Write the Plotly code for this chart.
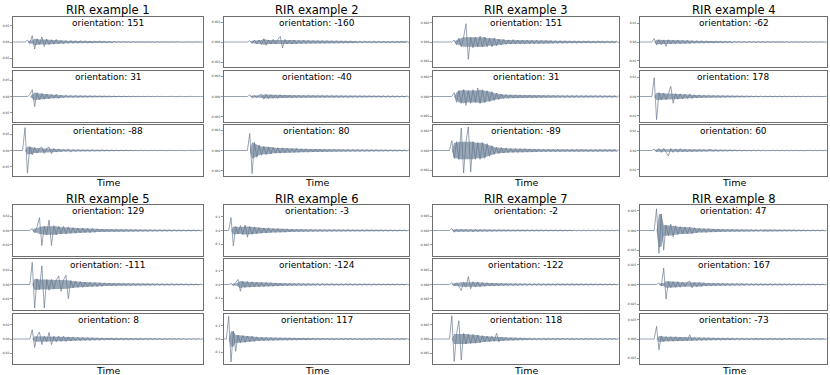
import numpy as np
import plotly.graph_objects as go

# ---------------- data ----------------
N_SAMPLES = 80
TITLES = ["RIR example %d" % k for k in range(1, 9)]
ORIENTATIONS = [[151, 31, -88], [-160, -40, 80], [151, 31, -89], [-62, 178, 60],
                [129, -111, 8], [-3, -124, 117], [-2, -122, 118], [47, 167, -73]]
UNITS = [1e-3, 1e-4, 1e-4, 1e-3, 1e-3, 1e-3, 1e-4, 1e-3]      # unit of the sample lists
TICK_STEP = [0.05, 0.003, 0.002, 0.01, 0.02, 0.1, 0.005, 0.025]
Y_LIMIT = [0.078, 0.00375, 0.0026, 0.0132, 0.0357, 0.188, 0.0089, 0.0325]
TICK_FMT = [".2f", ".3f", ".3f", ".2f", ".2f", ".1f", ".3f", ".3f"]

EX1_P1 = [0, 0, 0, 0, 0, 0, 6, -5, 20, -22,
          10, -8, 16, -14, 9, -8, 7, -7, 8, -6,
          5, -6, 5, -4, 5, -4, 4, -4, 4, -3,
          4, -3, 3, -3, 3, -2, 3, -2, 2, -2,
          2, -2, 2, -1.5, 1.5, -1.5, 1.5, -1.2, 1.2, -1,
          1, -1, 1, -1, 1, -1, 1, -0.8, 0.8, -0.8,
          0.8, -0.8, 0.8, -0.7, 0.7, -0.7, 0.7, -0.6, 0.6, -0.6,
          0.6, -0.6, 0.5, -0.5, 0.5, -0.5, 0.5, -0.5, 0.4, -0.4]
EX1_P2 = [0, 0, 0, 0, 0, 0, 0, 6, 21, -31,
          12, -10, 9, -8, 7, -7, 6, -5, 7, -6,
          4, -4, 4, -3, 3, -3, 3, -3, 2.5, -2,
          2, -2, 2, -2, 1.8, -1.5, 1.5, -1.5, 1.3, -1.2,
          1.2, -1, 1, -1, 1, -1, 1, -0.9, 0.9, -0.8,
          0.8, -0.8, 0.8, -0.8, 0.7, -0.7, 0.7, -0.7, 0.6, -0.6,
          0.6, -0.6, 0.6, -0.5, 0.5, -0.5, 0.5, -0.5, 0.5, -0.4,
          0.4, -0.4, 0.4, -0.4, 0.4, -0.4, 0.3, -0.3, 0.3, -0.3]
EX1_P3 = [0, 0, 0, 0, 0, 70, -69, 12, -13, 10,
          -8, 7, 10, -9, 6, 10, -10, 6, -5, 5,
          -4, 4, -3, 5, -5, 3, -3, 3, -2, 2,
          -2, 2, -2, 2, -1.5, 1.5, -1.5, 1.5, -1.2, 1.2,
          -1, 1, -1, 1, -1, 1, -0.9, 0.9, -0.8, 0.8,
          -0.8, 0.8, -0.8, 0.7, -0.7, 0.7, -0.7, 0.6, -0.6, 0.6,
          -0.6, 0.6, -0.5, 0.5, -0.5, 0.5, -0.5, 0.5, -0.4, 0.4,
          -0.4, 0.4, -0.4, 0.4, -0.4, 0.3, -0.3, 0.3, -0.3, 0.3]

EX2_P1 = [0, 0, 0, 0, 0, 0, 0, 0, 0, 0,
          0, 2, -2, 3, -3, 3, -4, 5, -5, 3,
          -3, 4, -3, 4, 8.5, -9, 4, -3, 3, -3,
          3, -3, 2.5, -2.5, 3, -2, 2.5, -2, 2, -2,
          2, -2, 2, -2, 2, -1.8, 1.8, -1.8, 1.6, -1.6,
          1.6, -1.5, 1.5, -1.5, 1.5, -1.4, 1.4, -1.4, 1.3, -1.3,
          1.3, -1.2, 1.2, -1.2, 1.2, -1.1, 1.1, -1.1, 1, -1,
          1, -1, 1, -1, 1, -1, 1, -1, 1, -1]
EX2_P2 = [0, 0, 0, 0, 0, 0, 0, 0, 0, 0,
          0, 2.5, -2, 1.5, -1.5, 2, 3, -3.5, 3, -3,
          2.5, -2.5, 2, -2.5, 2.5, -2, 2, -2, 2, -2,
          2, -2, 2, -1.8, 1.8, -1.8, 1.8, -1.6, 1.6, -1.6,
          1.5, -1.5, 1.5, -1.5, 1.4, -1.4, 1.4, -1.3, 1.3, -1.3,
          1.2, -1.2, 1.2, -1.2, 1.1, -1.1, 1.1, -1.1, 1, -1,
          1, -1, 1, -1, 1, -1, 1, -1, 1, -1,
          1, -1, 0.9, -0.9, 0.9, -0.9, 0.9, -0.9, 0.9, -0.9]
EX2_P3 = [0, 0, 0, 0, 0, 0, 0, 0, 0, 0,
          0, 25, -34, 12, -10, 8, -7, 6, -6, 5,
          -5, 5, -4, 4, -4, 4, -3.5, 3.5, -3, 3,
          -3, 3, -3, 2.5, -2.5, 2.5, -2.5, 2.2, -2.2, 2,
          -2, 2, -2, 1.8, -1.8, 1.8, -1.6, 1.6, -1.6, 1.5,
          -1.5, 1.5, -1.5, 1.4, -1.4, 1.4, -1.3, 1.3, -1.3, 1.2,
          -1.2, 1.2, -1.2, 1.1, -1.1, 1.1, -1.1, 1, -1, 1,
          -1, 1, -1, 1, -1, 0.9, -0.9, 0.9, -0.9, 0.9]

EX3_P1 = [0, 0, 0, 0, 0, 0, 0, 0, 0, 2,
          -3, 4, -5, 5, 19, -18, 5, -6, 5, -5,
          6, -5, 5, -5, 4, -5, 4, -4, 3, -3,
          2.5, -2.5, 2.2, -2.2, 2.5, -2, 2, -2, 2, -1.8,
          2, -1.8, 1.8, -1.8, 1.8, -1.6, 1.6, -1.6, 1.6, -1.5,
          1.5, -1.5, 1.4, -1.4, 1.4, -1.3, 1.3, -1.3, 1.2, -1.2,
          1.2, -1.2, 1.1, -1.1, 1, -1, 1, -1, 1, -1,
          1, -1, 1, -1, 0.9, -0.9, 0.9, -0.9, 0.9, -0.9]
EX3_P2 = [0, 0, 0, 0, 0, 0, 0, 0, 0, 4,
          -6, 6, -7, 7, -9, 6, -7, 7, -6, 8.7,
          -7, 7, -6, 6, -5, 5, -4, 3.5, -3, 2.5,
          -2, 2, -1.8, 1.8, -1.6, 1.6, -1.5, 1.5, -1.5, 1.4,
          -1.4, 1.4, -1.3, 1.3, -1.3, 1.3, -1.2, 1.2, -1.2, 1.2,
          -1.2, 1.2, -1.1, 1.1, -1.1, 1.1, -1.1, 1, -1, 1,
          -1, 1, -1, 1, -1, 0.9, -0.9, 0.9, -0.9, 0.9,
          -0.9, 0.9, -0.9, 0.9, -0.8, 0.8, -0.8, 0.8, -0.8, 0.8]
EX3_P3 = [0, 0, 0, 0, 0, 0, 0, 0, 10, -8,
          9, -9, 23, -23, 9, 24, -22, 9, -9, 8,
          -9, 8, -8, 7, -6, 5, -4, 3.5, -3, 3,
          -2.5, 2.5, -2.2, 2.2, -2, 2, -2, 1.8, -1.8, 1.8,
          -1.6, 1.6, -1.6, 1.5, -1.5, 1.5, -1.4, 1.4, -1.4, 1.4,
          -1.3, 1.3, -1.3, 1.3, -1.2, 1.2, -1.2, 1.2, -1.1, 1.1,
          -1.1, 1.1, -1.1, 1, -1, 1, -1, 1, -1, 1,
          -1, 1, -1, 1, -0.9, 0.9, -0.9, 0.9, -0.9, 0.9]

EX4_P1 = [0, 0, 0, 0, 0, 0, 1.8, -1.6, 1.2, -1.4,
          1.0, -2.3, 1.2, -1.0, 1.0, -0.9, 1.1, -0.9, 0.9, -0.8,
          0.9, -0.8, 0.8, -0.7, 0.7, -0.6, 0.6, -0.6, 0.5, -0.5,
          0.5, -0.5, 0.4, -0.4, 0.4, -0.4, 0.4, -0.35, 0.35, -0.35,
          0.3, -0.3, 0.3, -0.3, 0.3, -0.3, 0.3, -0.25, 0.25, -0.25,
          0.25, -0.25, 0.25, -0.2, 0.2, -0.2, 0.2, -0.2, 0.2, -0.2,
          0.2, -0.2, 0.2, -0.2, 0.15, -0.15, 0.15, -0.15, 0.15, -0.15,
          0.15, -0.15, 0.15, -0.15, 0.15, -0.15, 0.1, -0.1, 0.1, -0.1]
EX4_P2 = [0, 0, 0, 0, 0, 0, 9.7, -12, 2, -1.8,
          1.8, -1.6, 1.5, 5.3, -3.5, 1.5, -1.4, 1.4, -1.2, 1.3,
          -1.0, 1.4, -1.0, 0.9, -0.8, 0.9, -0.7, 0.7, -0.6, 0.6,
          -0.5, 0.5, -0.5, 0.45, -0.45, 0.4, -0.4, 0.4, -0.35, 0.35,
          -0.3, 0.3, -0.3, 0.3, -0.3, 0.3, -0.25, 0.25, -0.25, 0.25,
          -0.25, 0.2, -0.2, 0.2, -0.2, 0.2, -0.2, 0.2, -0.2, 0.2,
          -0.2, 0.2, -0.15, 0.15, -0.15, 0.15, -0.15, 0.15, -0.15, 0.15,
          -0.15, 0.15, -0.15, 0.1, -0.1, 0.1, -0.1, 0.1, -0.1, 0.1]
EX4_P3 = [0, 0, 0, 0, 0, 0, 0.8, -0.7, 1.0, -1.0,
          1.1, -0.9, -2.8, 1.1, -1.0, 0.9, -0.9, 1.0, -0.8, 0.7,
          -0.7, 0.6, -0.6, 0.5, -0.5, 0.5, -0.45, 0.45, -0.4, 0.4,
          0.4, -0.35, 0.35, -0.35, 0.3, -0.3, 0.3, -0.3, 0.3, -0.25,
          0.25, -0.25, 0.25, -0.25, 0.2, -0.2, 0.2, -0.2, 0.2, -0.2,
          0.2, -0.2, 0.2, -0.2, 0.15, -0.15, 0.15, -0.15, 0.15, -0.15,
          0.15, -0.15, 0.15, -0.15, 0.15, -0.15, 0.1, -0.1, 0.1, -0.1,
          0.1, -0.1, 0.1, -0.1, 0.1, -0.1, 0.1, -0.1, 0.1, -0.1]

EX5_P1 = [0, 0, 0, 0, 0, 0, 0, 0, 3, -3,
          5, 18, -21, 6, -6, 14.8, -21, 7, -6, 6,
          -5, 5.7, -5, 5, -4, 4, -4, 3.5, -3.5, 3.5,
          -3, 3, -3, 3, -2.5, 2.5, -2, 2, -2, 2,
          -1.8, 1.8, -1.6, 1.6, -1.5, 1.5, -1.4, 1.4, -1.3, 1.3,
          -1.2, 1.2, -1.2, 1.1, -1.1, 1.1, -1, 1, -1, 1,
          -1, 1, -0.9, 0.9, -0.9, 0.9, -0.8, 0.8, -0.8, 0.8,
          -0.8, 0.7, -0.7, 0.7, -0.7, 0.7, -0.6, 0.6, -0.6, 0.6]
EX5_P2 = [0, 0, 0, 0, 0, 0, 0, 0, 31, -33,
          8, -7, 26, -33, 7, -8, 7, -6, 6, 12,
          -9.5, 6, 13, -20, 6, -5, 5, -4, 4, -4,
          3.5, -3.5, 3, -3, 3, -3, 2.5, -2.5, 2.5, -2,
          2, -2, 2, -1.8, 1.8, -1.6, 1.6, -1.5, 1.5, -1.4,
          1.4, -1.3, 1.3, -1.2, 1.2, -1.2, 1.1, -1.1, 1, -1,
          1, -1, 1, -0.9, 0.9, -0.9, 0.9, -0.8, 0.8, -0.8,
          0.8, -0.7, 0.7, -0.7, 0.7, -0.6, 0.6, -0.6, 0.6, -0.6]
EX5_P3 = [0, 0, 0, 0, 0, 0, 0, 0, 13.3, -12,
          4, 10, -8, 4, -4, 9.5, -8, 4, -4, 4,
          -3.5, 4, -3.5, 3, -3, 3, -2.5, 2.5, -2.5, 2.5,
          -2, 2, -2, 2, -1.8, 1.8, -1.6, 1.6, -1.5, 1.5,
          -1.4, 1.4, -1.3, 1.3, -1.2, 1.2, -1.2, 1.1, -1.1, 1,
          -1, 1, -1, 1, -0.9, 0.9, -0.9, 0.9, -0.8, 0.8,
          -0.8, 0.8, -0.7, 0.7, -0.7, 0.7, -0.7, 0.6, -0.6, 0.6,
          -0.6, 0.6, -0.6, 0.5, -0.5, 0.5, -0.5, 0.5, -0.5, 0.5]

EX6_P1 = [0, 0, 0, 95, -113, 30, -25, 37, -30, 40,
          -50, 30, -28, 25, -22, 20, -20, 18, -18, 20,
          -15, 15, -14, 14, -13, 12, -12, 12, -11, 11,
          -10, 10, -10, 10, -9, 9, -9, 9, -8, 8,
          -8, 8, -8, 7, -7, 7, -7, 7, -6, 6,
          -6, 6, -6, 6, -5, 5, -5, 5, -5, 5,
          -5, 5, -4, 4, -4, 4, -4, 4, -4, 4,
          -4, 3.5, -3.5, 3.5, -3.5, 3.5, -3, 3, -3, 3]
EX6_P2 = [0, 0, 0, 8, -8, 15, 37, -50, 25, -22,
          22, -20, 20, -18, 18, -17, 16, -15, 15, -14,
          14, -13, 12, -12, 11, -11, 10, -10, 10, -9,
          9, -9, 9, -8, 8, -8, 8, -7, 7, -7,
          7, -7, 6, -6, 6, -6, 6, -6, 5, -5,
          5, -5, 5, -5, 5, -5, 4.5, -4.5, 4.5, -4.5,
          4.5, -4, 4, -4, 4, -4, 4, -4, 3.5, -3.5,
          3.5, -3.5, 3.5, -3.5, 3, -3, 3, -3, 3, -3]
EX6_P3 = [0, 0, 170, -173, 58, -93, 30, -28, 25, -25,
          22, -20, 20, -18, 16, -15, 14, -13, 12, -12,
          11, -11, 10, -10, 10, -9, 9, -9, 8, -8,
          8, -8, 7, -7, 7, -7, 6, -6, 6, -6,
          6, -6, 5, -5, 5, -5, 5, -5, 5, -5,
          4.5, -4.5, 4.5, -4.5, 4, -4, 4, -4, 4, -4,
          4, -4, 3.5, -3.5, 3.5, -3.5, 3.5, -3.5, 3, -3,
          3, -3, 3, -3, 3, -3, 3, -3, 3, -3]

EX7_P1 = [0, 0, 0, 0, 0, 0, 0, 0, 7, -6,
          4, -4, 5, -4, 4, -4, 4, -5, 4, -4,
          3, -3, 3, -3, 2.5, -2.5, 2.5, -2.5, 2.5, -2,
          2, -2, 2, -2, 2, -2, 2, -2, 2, -2,
          1.8, -1.8, 1.8, -1.8, 1.8, -1.6, 1.6, -1.6, 1.6, -1.6,
          1.5, -1.5, 1.5, -1.5, 1.5, -1.5, 1.4, -1.4, 1.4, -1.4,
          1.4, -1.3, 1.3, -1.3, 1.3, -1.3, 1.2, -1.2, 1.2, -1.2,
          1.2, -1.2, 1.1, -1.1, 1.1, -1.1, 1.1, -1.1, 1, -1]
EX7_P2 = [0, 0, 0, 0, 0, 0, 0, 0, 6, -5,
          6, -8, -21, 8, -9, 28, -15, 10, -9, 9,
          -8, 7, -6, 6, -5, 5, -5, 4.5, -4.5, 4,
          -4, 4, -3.5, 3.5, -3.5, 3.5, -3, 3, -3, 3,
          -3, 3, -3, 2.8, -2.8, 2.8, -2.6, 2.6, -2.6, 2.5,
          -2.5, 2.5, -2.4, 2.4, -2.4, 2.3, -2.3, 2.2, -2.2, 2.2,
          -2.1, 2.1, -2, 2, -2, 2, -2, 2, -1.9, 1.9,
          -1.9, 1.8, -1.8, 1.8, -1.8, 1.7, -1.7, 1.7, -1.6, 1.6]
EX7_P3 = [0, 0, 0, 0, 0, 0, 0, 0, 83, -80,
          18, 65, -75, 20, -18, 18, -16, 16, -15, 14,
          -14, 12, -11, 10, -10, 9, -8, 21, -10, 7,
          -6, 6, -5, 5, -5, 4.5, -4.5, 4, -4, 4,
          -3.5, 3.5, -3.5, 3, -3, 3, -3, 3, -2.8, 2.8,
          -2.6, 2.6, -2.5, 2.5, -2.5, 2.4, -2.4, 2.3, -2.3, 2.2,
          -2.2, 2.1, -2.1, 2, -2, 2, -2, 2, -1.9, 1.9,
          -1.9, 1.8, -1.8, 1.8, -1.8, 1.7, -1.7, 1.7, -1.6, 1.6]

EX8_P1 = [0, 0, 0, 0, 0, 0, 0, 27.7, -29, 21,
          -25, 7, -6.5, 8, -8, 6, -5, 5, -4.5, 4.5,
          -4, 4, -4, 3.5, -3, 3, -2.5, 2.5, -2.5, 2.5,
          -2, 2, -2, 2, -1.8, 1.8, -1.6, 1.6, -1.5, 1.5,
          -1.4, 1.3, -1.3, 1.2, -1.2, 1.1, -1.1, 1, -1, 1,
          -1, 0.9, -0.9, 0.9, -0.9, 0.8, -0.8, 0.8, -0.8, 0.8,
          -0.7, 0.7, -0.7, 0.7, -0.7, 0.7, -0.7, 0.6, -0.6, 0.6,
          -0.6, 0.6, -0.6, 0.6, -0.5, 0.5, -0.5, 0.5, -0.5, 0.5]
EX8_P2 = [0, 0, 0, 0, 0, 0, 0, 0, 2, -2,
          21, -18.6, 4, -4, 3.5, -3.5, 3.5, -3.5, 3, -3,
          3, 4.3, -4.3, 3, -3, 2.5, -2.5, 2.5, -2, 2,
          -2, 2, -1.8, 1.8, -1.6, 1.6, -1.5, 1.5, -1.4, 1.4,
          -1.3, 1.3, -1.2, 1.2, -1.2, 1.1, -1.1, 1.1, -1, 1,
          -1, 1, -1, 0.9, -0.9, 0.9, -0.9, 0.9, -0.8, 0.8,
          -0.8, 0.8, -0.8, 0.7, -0.7, 0.7, -0.7, 0.7, -0.7, 0.6,
          -0.6, 0.6, -0.6, 0.6, -0.6, 0.5, -0.5, 0.5, -0.5, 0.5]
EX8_P3 = [0, 0, 0, 0, 0, 0, 0, 16.5, -14, 4,
          -3.5, 3, -3, 3, -3, 3, -2.8, 2.6, -2.5, 2.5,
          -2.4, 5.6, -2.2, 2.2, -2, 2, -2, 1.8, -1.8, 1.8,
          -1.6, 1.6, -1.5, 1.5, -1.4, 1.4, -1.3, 1.3, -1.2, 1.2,
          -1.2, 1.1, -1.1, 1.1, -1, 1, -1, 1, -1, 1,
          -0.9, 0.9, -0.9, 0.9, -0.9, 0.8, -0.8, 0.8, -0.8, 0.8,
          -0.8, 0.7, -0.7, 0.7, -0.7, 0.7, -0.7, 0.6, -0.6, 0.6,
          -0.6, 0.6, -0.6, 0.6, -0.5, 0.5, -0.5, 0.5, -0.5, 0.5]

SIGNALS = [[EX1_P1, EX1_P2, EX1_P3], [EX2_P1, EX2_P2, EX2_P3],
           [EX3_P1, EX3_P2, EX3_P3], [EX4_P1, EX4_P2, EX4_P3],
           [EX5_P1, EX5_P2, EX5_P3], [EX6_P1, EX6_P2, EX6_P3],
           [EX7_P1, EX7_P2, EX7_P3], [EX8_P1, EX8_P2, EX8_P3]]

# ---------------- layout (pixels of the 830x375 canvas) ----------------
W, H = 830, 375
COL_X = [(13, 203), (224, 409), (433, 619), (640, 827)]
ROW_PANELS = [[(17, 67), (71, 122), (125, 176)],
              [(205, 256), (259, 310), (314, 364)]]
TITLE_Y = [10, 199]
TIME_Y = [182, 370]

FONT = "DejaVu Sans"
WAVE_COLOR = "rgba(100,118,140,0.95)"
WAVE_FILL = "rgba(118,136,158,0.75)"
FRAME_COLOR = "#6e6e6e"

fig = go.Figure()
layout = {}
annotations = []


def px_x(v):
    return v / W


def px_y(v):
    return 1 - v / H


for k in range(8):
    row, col = divmod(k, 4)
    x0, x1 = COL_X[col]
    lim = Y_LIMIT[k]
    step = TICK_STEP[k]
    for p in range(3):
        n = k * 3 + p + 1
        sfx = "" if n == 1 else str(n)
        top, bot = ROW_PANELS[row][p]
        vals = np.array(SIGNALS[k][p], dtype=float) * UNITS[k]
        idx = np.arange(len(vals))
        # dense-waveform body: smallest |sample| among 3 neighbours, so isolated
        # spikes stay thin lines while the sustained part reads as a filled band
        mag = np.abs(vals)
        body = np.minimum(np.minimum(mag[:-2], mag[1:-1]), mag[2:])
        bx = idx[1:-1]
        common = dict(xaxis="x" + sfx, yaxis="y" + sfx, showlegend=False,
                      hoverinfo="skip")
        fig.add_trace(go.Scatter(x=bx, y=-body, mode="lines",
                                 line=dict(width=0, color=WAVE_FILL), **common))
        fig.add_trace(go.Scatter(x=bx, y=body, mode="lines",
                                 line=dict(width=0, color=WAVE_FILL),
                                 fill="tonexty", fillcolor=WAVE_FILL, **common))
        fig.add_trace(go.Scatter(x=idx, y=vals, mode="lines",
                                 line=dict(color=WAVE_COLOR, width=0.7),
                                 **common))
        layout["xaxis" + sfx] = dict(
            domain=[px_x(x0), px_x(x1)], range=[0, N_SAMPLES - 1],
            anchor="y" + sfx, showticklabels=False, ticks="", showgrid=False,
            zeroline=False, showline=True, mirror=True,
            linecolor=FRAME_COLOR, linewidth=1)
        tv = [-step, 0, step]
        layout["yaxis" + sfx] = dict(
            domain=[px_y(bot), px_y(top)], range=[-lim, lim],
            anchor="x" + sfx, tickvals=tv,
            ticktext=[format(v, TICK_FMT[k]) for v in tv],
            tickfont=dict(size=3, color="#333333", family=FONT),
            ticks="outside", ticklen=2, tickwidth=0.6, tickcolor="#555555",
            showgrid=False, zeroline=False, showline=True, mirror=True,
            linecolor=FRAME_COLOR, linewidth=1)
        annotations.append(dict(
            text="orientation: %d" % ORIENTATIONS[k][p],
            x=px_x((x0 + x1) / 2), y=px_y(top + 6), xref="paper", yref="paper",
            xanchor="center", yanchor="middle", showarrow=False,
            font=dict(size=9, color="black", family=FONT)))
    annotations.append(dict(
        text=TITLES[k], x=px_x((x0 + x1) / 2), y=px_y(TITLE_Y[row]),
        xref="paper", yref="paper", xanchor="center", yanchor="middle",
        showarrow=False, font=dict(size=11.5, color="black", family=FONT)))
    annotations.append(dict(
        text="Time", x=px_x((x0 + x1) / 2), y=px_y(TIME_Y[row]),
        xref="paper", yref="paper", xanchor="center", yanchor="middle",
        showarrow=False, font=dict(size=9.5, color="black", family=FONT)))

fig.update_layout(
    width=W, height=H, margin=dict(l=0, r=0, t=0, b=0),
    paper_bgcolor="white", plot_bgcolor="white",
    font=dict(family=FONT), annotations=annotations, showlegend=False,
    **layout)

fig.write_html("out.html", config={"displayModeBar": False, "staticPlot": True},
               post_script="document.body.style.margin='0';"
                           "document.body.style.overflow='hidden';")
